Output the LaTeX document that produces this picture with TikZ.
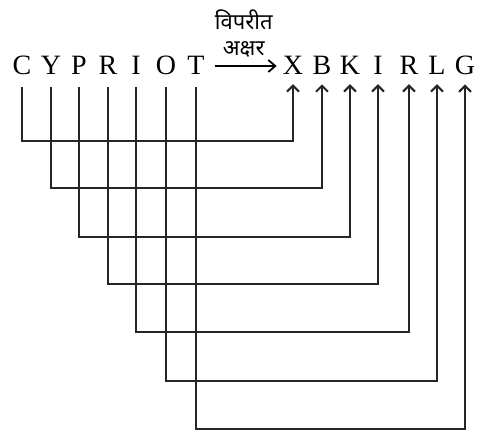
\documentclass[tikz,border=0pt]{standalone}
\usepackage{fontspec}
\setmainfont{Liberation Serif}
\newfontfamily\hindifont[Script=Devanagari]{Noto Sans}
\usepackage{tikz}
\usetikzlibrary{arrows.meta}
\tikzset{
  letter/.style={inner sep=0pt,anchor=base,font=\fontsize{28}{29}\selectfont},
  link/.style={line width=2.2pt,draw=black!85,-{Straight Barb[length=6pt,width=12pt,line width=2pt]},shorten >=10pt},
  swap/.style={line width=1.8pt,-{Straight Barb[length=7pt,width=12pt,line width=1.8pt]},shorten <=10pt,shorten >=6pt}
}

\begin{document}
\begin{tikzpicture}[x=1pt,y=-1pt]
  \useasboundingbox (0,0) rectangle (479,432);
  \node[letter] (c1) at (22,74) {C};
  \node[letter] (c2) at (51,74) {Y};
  \node[letter] (c3) at (79,74) {P};
  \node[letter] (c4) at (108,74) {R};
  \node[letter] (c5) at (136,74) {I};
  \node[letter] (c6) at (166,74) {O};
  \node[letter] (c7) at (196,74) {T};

  \node[letter] (r1) at (293,74) {X};
  \node[letter] (r2) at (322,74) {B};
  \node[letter] (r3) at (350,74) {K};
  \node[letter] (r4) at (378,74) {I};
  \node[letter] (r5) at (409,74) {R};
  \node[letter] (r6) at (437,74) {L};
  \node[letter] (r7) at (465,74) {G};

  \draw[swap] (c7.east |- 0,66) -- (r1.west |- 0,66)
    node[midway,above=8pt,align=center,inner sep=0pt,font=\hindifont\fontsize{22}{26}\selectfont] {विपरीत\\अक्षर};

  \draw[link] (c1.south) ++(0,13) -- (c1 |- 0,141) -| (r1.south);
  \draw[link] (c2.south) ++(0,13) -- (c2 |- 0,188) -| (r2.south);
  \draw[link] (c3.south) ++(0,13) -- (c3 |- 0,237) -| (r3.south);
  \draw[link] (c4.south) ++(0,13) -- (c4 |- 0,284) -| (r4.south);
  \draw[link] (c5.south) ++(0,13) -- (c5 |- 0,332) -| (r5.south);
  \draw[link] (c6.south) ++(0,13) -- (c6 |- 0,381) -| (r6.south);
  \draw[link] (c7.south) ++(0,13) -- (c7 |- 0,429) -| (r7.south);
\end{tikzpicture}
\end{document}
